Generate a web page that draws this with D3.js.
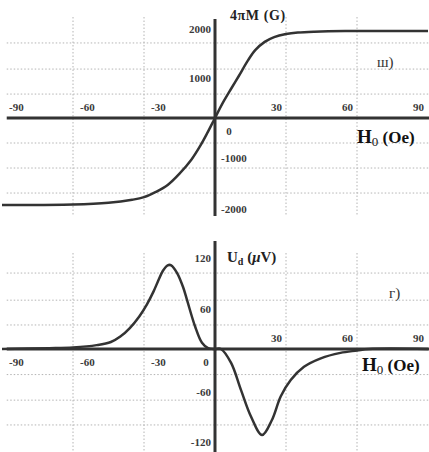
<!DOCTYPE html>
<html>
<head>
<meta charset="utf-8">
<script src="https://cdn.jsdelivr.net/npm/d3@7"></script>
<style>
  body { margin: 0; background: #fff; }
  svg { display: block; font-family: "Liberation Serif", "DejaVu Serif", serif; }
  .grid { stroke: #b4b4b4; stroke-width: 1; stroke-dasharray: 1.5,2; fill: none; }
  .axis { stroke: #333; stroke-width: 3; }
  .tick { font-size: 11px; font-weight: bold; fill: #3a3a3a; }
  .curve { fill: none; stroke: #333; stroke-width: 2.5; }
</style>
</head>
<body>
<div id="graph"></div>
<script>
// field values, Oe
var xTicks = [-90, -60, -30, 30, 60, 90]
var xGrid = [-60, -30, 30, 60]

// top panel: 4πM (G) vs H0
var hM = [-90, -60, -45, -35, -30, -25, -20, -15, -10, -6, -3, 0, 3, 7, 10, 14, 17, 21, 25, 30, 35, 42, 55, 70, 90]
var mVals = [-2000, -1990, -1950, -1880, -1820, -1700, -1540, -1280, -960, -620, -320, 0, 320, 690, 960, 1330, 1560, 1750, 1860, 1930, 1965, 1985, 2000, 2000, 2000]
var mTicks = [2000, 1000, -1000, -2000]
var mGrid = [1725, 1125, 550, -575, -1150, -1725]

// bottom panel: Ud (μV) vs H0
var hU = [-90, -70, -60, -50, -44, -40, -36, -32, -28.7, -26, -24, -22, -20, -18.5, -16, -13.5, -11.8, -8.4, -5.5, -2.9, 0, 2.5, 6.8, 11, 15.2, 19.9, 24, 27.8, 32, 37.6, 44.7, 53, 60, 65, 90]
var uVals = [0, 1, 2, 5, 9, 16, 27, 42, 58, 74, 88, 101, 108, 108, 98, 80, 63, 29, 8, 1, 0, 0, -18, -53, -87, -111, -92, -61, -40, -23, -12, -5, -2, 0, 0]
var uTicks = [120, 60, -60, -120]
var uGrid = [98, 63, 31, -33, -66, -98]

var W = 429, H = 452
var svg = d3.select('#graph').append('svg').attr('width', W).attr('height', H)

var x = d3.scaleLinear().domain([-90, 90]).range([2, 428])
var xLine = [-88, 90.5]

function panel(o){
  var g = svg.append('g')
  var y = o.y

  g.selectAll('line.hg').data(o.grid).enter().append('line')
    .attr('class', 'grid')
    .attr('x1', x(xLine[0])).attr('x2', x(xLine[1]))
    .attr('y1', d => y(d)).attr('y2', d => y(d))
  g.selectAll('line.vg').data(xGrid).enter().append('line')
    .attr('class', 'grid')
    .attr('x1', d => x(d)).attr('x2', d => x(d))
    .attr('y1', o.top).attr('y2', o.bottom)

  // axes
  g.append('line').attr('class', 'axis')
    .attr('x1', x(xLine[0])).attr('x2', x(xLine[1]))
    .attr('y1', y(0)).attr('y2', y(0))
  g.append('line').attr('class', 'axis')
    .attr('x1', x(0)).attr('x2', x(0))
    .attr('y1', o.axisTop).attr('y2', o.bottom)

  var line = d3.line()
    .x(d => x(d[0]))
    .y(d => y(d[1]))
    .curve(d3.curveCatmullRom.alpha(0.5))
  g.append('path').attr('class', 'curve')
    .attr('d', line(d3.zip(o.hs, o.vals)))

  // x tick labels
  g.selectAll('text.xt').data(xTicks).enter().append('text')
    .attr('class', 'tick')
    .attr('x', d => d < 0 ? x(d) + 7 : x(d) - 4)
    .attr('y', d => d < 0 ? y(0) + o.negDy : y(0) - 7)
    .attr('text-anchor', d => d < 0 ? 'start' : 'end')
    .text(d => d)
  g.append('text').attr('class', 'tick')
    .attr('x', x(0) + o.zeroDx).attr('y', y(0) + 17)
    .attr('text-anchor', 'middle')
    .text('0')

  // y tick labels
  g.selectAll('text.yt').data(o.ticks).enter().append('text')
    .attr('class', 'tick')
    .attr('x', d => (o.negRight && d < 0) ? x(0) + 6 : x(0) - 4)
    .attr('y', d => y(d) + o.tickDy(d))
    .attr('dy', '0.35em')
    .attr('text-anchor', d => (o.negRight && d < 0) ? 'start' : 'end')
    .text(d => d)

  // H0 (Oe)
  var ht = g.append('text')
    .attr('x', o.hx).attr('y', y(0) + o.hDy)
    .attr('font-weight', 'bold').attr('font-size', 19).attr('fill', '#111')
  ht.append('tspan').text('H')
  ht.append('tspan').attr('font-size', 13).attr('dy', 3).attr('font-weight', 'normal').text('0')
  ht.append('tspan').attr('dy', -3).attr('font-size', 17).text(' (Oe)')

  // panel letter
  g.append('text')
    .attr('x', o.letterX).attr('y', o.letterY)
    .attr('font-size', 15).attr('fill', '#333')
    .text(o.letter)
  return g
}

var yTop = d3.scaleLinear().domain([-2000, 2000]).range([205, 31])
var topG = panel({
  y: yTop, grid: mGrid, ticks: mTicks, hs: hM, vals: mVals,
  top: 17, bottom: 216, axisTop: 19, negDy: -7, zeroDx: 14, negRight: true,
  tickDy: d => d == 1000 ? 4 : (d == -2000 ? 4 : (d == -1000 ? -3 : -2)),
  hx: 357, hDy: 25, letter: 'ш)', letterX: 377, letterY: 67
})
topG.append('text')
  .attr('x', x(0) + 15).attr('y', 20)
  .attr('font-weight', 'bold').attr('font-size', 14).attr('fill', '#222')
  .attr('letter-spacing', 0.6)
  .text('4πM (G)')

var yBot = d3.scaleLinear().domain([-120, 120]).range([442, 256])
var botG = panel({
  y: yBot, grid: uGrid, ticks: uTicks, hs: hU, vals: uVals,
  top: 253, bottom: 452, axisTop: 241, negDy: 17, zeroDx: -9, negRight: false,
  tickDy: d => d == 120 ? 2 : (d == 60 ? 7 : (d == -60 ? -3 : 0)),
  hx: 362, hDy: 22, letter: 'г)', letterX: 389, letterY: 298
})
var ut = botG.append('text')
  .attr('x', x(0) + 12).attr('y', 262)
  .attr('font-weight', 'bold').attr('font-size', 15).attr('fill', '#222')
ut.append('tspan').text('U')
ut.append('tspan').attr('font-size', 10).attr('dy', 3).text('d')
ut.append('tspan').attr('dy', -3).text(' (')
ut.append('tspan').attr('font-style', 'italic').text('μ')
ut.append('tspan').text('V)')
</script>
</body>
</html>
